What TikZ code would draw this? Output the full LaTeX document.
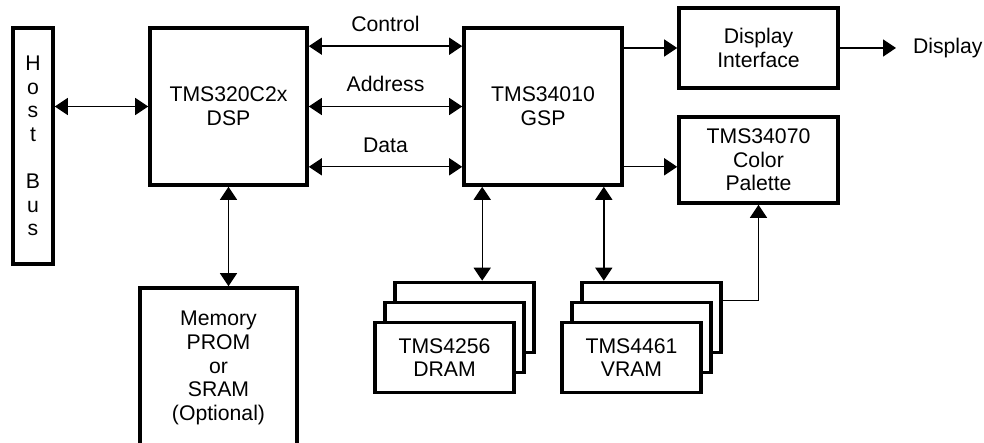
\documentclass[tikz,border=0pt]{standalone}
\usepackage{fontspec}
\setmainfont{Liberation Sans}
\usetikzlibrary{arrows.meta,positioning}

\begin{document}
\begin{tikzpicture}[x=0.5pt,y=-0.5pt,
      blk/.style={draw, line width=1.8pt, fill=white, align=center, inner sep=0pt,
                  font=\fontsize{10.6}{11.8}\selectfont},
      chip/.style={blk, minimum width=69.5pt, minimum height=35pt},
      lbl/.style={font=\fontsize{10.6}{11.8}\selectfont},
      bus/.style={line width=0.7pt, {Triangle[length=6.5pt,width=8.5pt]}-{Triangle[length=6.5pt,width=8.5pt]}},
      arr/.style={line width=0.7pt, -{Triangle[length=6.5pt,width=8.5pt]}}]
    \useasboundingbox (0,0) rectangle (984,443);
    \clip (0,0) rectangle (984,443);
    % main blocks
    \node[blk, minimum width=20pt, minimum height=118pt] (host) at (33,146) {H\\o\\s\\t\\[11.8pt]B\\u\\s};
    \node[blk, minimum width=78.5pt, minimum height=78.5pt] (dsp) at (228.5,106.5) {TMS320C2x\\DSP};
    \node[blk, minimum width=79pt, minimum height=78.5pt] (gsp) at (543,106.5) {TMS34010\\GSP};
    \node[blk, minimum width=78.5pt, minimum height=80pt] (mem) at (218.5,368) {Memory\\PROM\\or\\SRAM\\(Optional)};
    \node[blk, minimum width=79.5pt, minimum height=40pt] (disp) at (758.5,48) {Display\\Interface};
    \node[blk, minimum width=79.5pt, minimum height=43pt] (pal) at (758.5,160) {TMS34070\\Color\\Palette};
    % memory banks
    \node[chip] (dramC) at (464.5,317.5) {};
    \node[chip] (dramB) at (454.5,337.5) {};
    \node[chip] (dram)  at (444.5,357.5) {TMS4256\\DRAM};
    \node[chip] (vramC) at (651.5,317.5) {};
    \node[chip] (vramB) at (641.5,337.5) {};
    \node[chip] (vram)  at (631.5,357.5) {TMS4461\\VRAM};
    \coordinate (dispout) at (896,48);
    \node[lbl, anchor=west] (displbl) at (906,48) {Display};
    % connections
    \draw[bus] (host.east |- dsp.west) -- (dsp.west);
    \draw[bus] ([yshift=-10pt]dsp.north east) -- node[lbl, above=3.5pt] {Control} ([yshift=-10pt]gsp.north west);
    \draw[bus] (dsp.east) -- node[lbl, above=3.5pt] {Address} (gsp.west);
    \draw[bus] ([yshift=10pt]dsp.south east) -- node[lbl, above=3.5pt] {Data} ([yshift=10pt]gsp.south west);
    \draw[bus] (dsp.south) -- (dsp.south |- mem.north);
    \draw[bus] ([xshift=10pt]gsp.south west) -- ([xshift=10pt]gsp.south west |- dramC.north);
    \draw[bus] ([xshift=-10pt]gsp.south east) -- ([xshift=-10pt]gsp.south east |- vramC.north);
    \draw[arr] (gsp.east |- disp.west) -- (disp.west);
    \draw[arr] ([yshift=10pt]gsp.south east) -- ([yshift=10pt]gsp.south east -| pal.west);
    \draw[arr] (disp.east) -- (dispout);
    \draw[arr] (vramC.east |- vramB.north) -| (pal.south);
  \end{tikzpicture}
\end{document}
